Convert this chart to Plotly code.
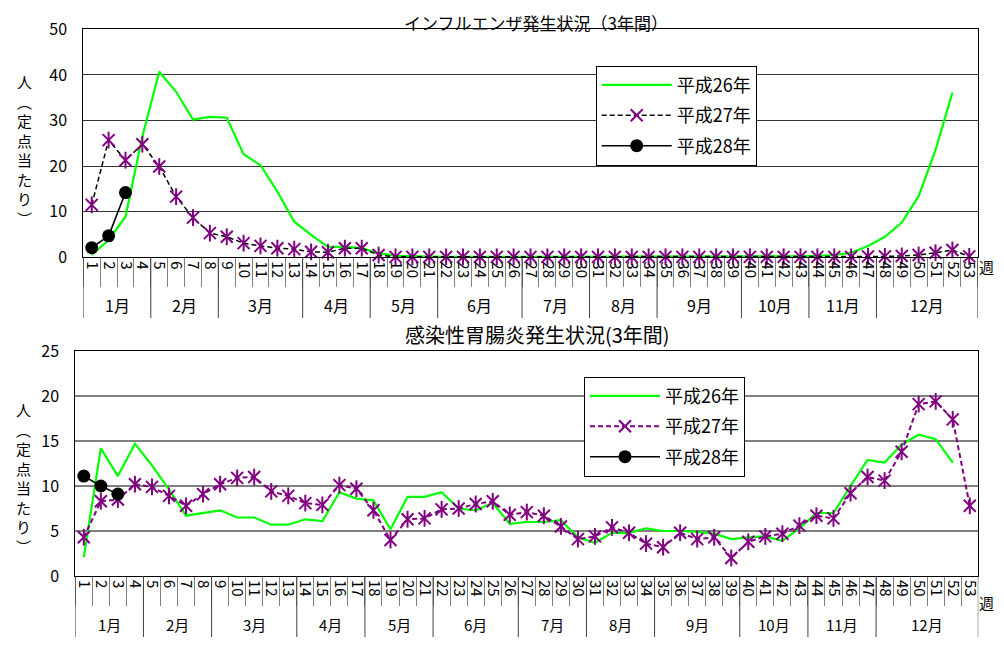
import plotly.graph_objects as go

# ---------------- data ----------------
month_names = ["1月", "2月", "3月", "4月", "5月", "6月", "7月", "8月", "9月", "10月", "11月", "12月"]
weeks_per_month = [4, 4, 5, 4, 4, 5, 4, 4, 5, 4, 4, 6]
week_labels = [str(i) for i in range(1, 54)]

series_names = ["平成26年", "平成27年", "平成28年"]

flu_h26 = [0.5, 3.8, 8.9, 26.5, 40.7, 36.3, 30.2, 30.8, 30.6, 22.6, 20.2, 14.4, 7.8, 4.9,
           2.3, 2.3, 2.0, 0.9, 0.3, 0.2, 0.2, 0.1, 0.1, 0.1, 0.1, 0.1, 0.1, 0.1, 0.1, 0.1,
           0.1, 0.1, 0.1, 0.1, 0.1, 0.1, 0.1, 0.1, 0.1, 0.1, 0.1, 0.1, 0.2, 0.3, 0.5, 1.0,
           2.5, 4.5, 7.6, 13.4, 23.5, 36.1]
flu_h27 = [11.5, 25.7, 21.3, 24.8, 19.9, 13.3, 8.7, 5.3, 4.5, 3.1, 2.5, 2.0, 1.8, 1.2,
           1.1, 2.0, 2.0, 0.5, 0.1, 0.1, 0.1, 0.1, 0.1, 0.1, 0.1, 0.1, 0.1, 0.1, 0.1, 0.1,
           0.1, 0.1, 0.1, 0.1, 0.1, 0.1, 0.1, 0.1, 0.1, 0.1, 0.1, 0.1, 0.1, 0.1, 0.1, 0.1,
           0.2, 0.2, 0.3, 0.5, 1.0, 1.6, 0.2]
flu_h28 = [2.1, 4.7, 14.2]

gastro_h26 = [2.1, 14.2, 11.1, 14.7, 12.3, 9.6, 6.7, 7.0, 7.3, 6.5, 6.5, 5.7, 5.7, 6.3,
              6.1, 9.3, 8.6, 8.4, 5.2, 8.8, 8.8, 9.3, 7.5, 7.3, 8.1, 5.8, 6.0, 6.0, 6.2,
              4.3, 3.7, 4.8, 4.8, 5.3, 5.0, 5.0, 4.9, 4.7, 4.1, 4.3, 4.4, 3.9, 5.3, 7.0,
              7.0, 10.0, 12.9, 12.6, 14.6, 15.7, 15.2, 12.6]
gastro_h27 = [4.3, 8.3, 8.5, 10.2, 9.9, 8.9, 7.8, 9.1, 10.2, 10.9, 11.0, 9.4, 8.9, 8.1,
              7.9, 10.1, 9.7, 7.3, 4.0, 6.3, 6.4, 7.4, 7.5, 8.0, 8.3, 6.8, 7.1, 6.7, 5.5,
              4.1, 4.4, 5.4, 4.8, 3.6, 3.2, 4.8, 4.1, 4.3, 2.0, 3.8, 4.4, 4.7, 5.6, 6.7,
              6.4, 9.2, 11.0, 10.6, 13.8, 19.1, 19.4, 17.4, 7.8]
gastro_h28 = [11.1, 10.0, 9.1]

titles = ["インフルエンザ発生状況（3年間）", "感染性胃腸炎発生状況(3年間)"]
y_title = "人<br>︵<br>定<br>点<br>当<br>た<br>り<br>︶"
week_unit = "週"

# ---------------- geometry helpers ----------------
FONT = "Noto Sans CJK JP"
GREEN = "#00ff00"
PURPLE = "#800080"
OFF = 8                      # page body margin
W, H = 1004 - 2 * OFF, 645 - 2 * OFF


def xp(p):
    return (p - OFF) / W


def yp(p):
    return 1 - (p - OFF) / H


# month boundaries / centres in category index units
bounds = [-0.5]
for n in weeks_per_month:
    bounds.append(bounds[-1] + n)
centres = [(a + b) / 2 for a, b in zip(bounds[:-1], bounds[1:])]

fig = go.Figure()


def add_set(h26, h27, h28, xa, ya, legend, h27_line_color, h27_width):
    fig.add_trace(go.Scatter(
        x=week_labels[:len(h26)], y=h26, name=series_names[0], mode="lines",
        line=dict(color=GREEN, width=2.2), xaxis=xa, yaxis=ya,
        legend=legend, legendgroup=legend + "a", cliponaxis=False))
    fig.add_trace(go.Scatter(
        x=week_labels[:len(h27)], y=h27, name=series_names[1], mode="lines+markers",
        line=dict(color=h27_line_color, width=h27_width, dash="5px,3px"),
        marker=dict(symbol="x-thin-open", size=12, color=PURPLE,
                    line=dict(color=PURPLE, width=2)),
        xaxis=xa, yaxis=ya, legend=legend, legendgroup=legend + "b", cliponaxis=False))
    fig.add_trace(go.Scatter(
        x=week_labels[:len(h27)], y=h27, name=series_names[1], mode="markers",
        marker=dict(symbol="line-ns-open", size=12, color=PURPLE,
                    line=dict(color=PURPLE, width=2)),
        xaxis=xa, yaxis=ya, legend=legend, legendgroup=legend + "b",
        showlegend=False, cliponaxis=False))
    fig.add_trace(go.Scatter(
        x=week_labels[:len(h28)], y=h28, name=series_names[2], mode="lines+markers",
        line=dict(color="black", width=1.6),
        marker=dict(symbol="circle", size=13, color="black"),
        xaxis=xa, yaxis=ya, legend=legend, legendgroup=legend + "c", cliponaxis=False))


add_set(flu_h26, flu_h27, flu_h28, "x", "y", "legend", "black", 1.5)
add_set(gastro_h26, gastro_h27, gastro_h28, "x2", "y2", "legend2", PURPLE, 2)

xcommon = dict(type="category", categoryorder="array", categoryarray=week_labels,
               range=[-0.5, len(week_labels) - 0.5],
               tickangle=90, dtick=1, showgrid=False,
               showline=True, linecolor="black", linewidth=1, mirror=True,
               ticks="outside", tickson="boundaries", ticklen=29, tickcolor="#808080",
               ticklabelstandoff=0,
               tickfont=dict(family=FONT, size=15, color="black"),
               automargin=False, fixedrange=True)
ycommon = dict(showgrid=True, zeroline=False, showline=True, linecolor="black",
               linewidth=1, mirror=True, ticks="", ticklabelstandoff=12,
               tickfont=dict(family=FONT, size=16, color="black"),
               automargin=False, fixedrange=True)

# chart geometry in page pixels: left, right, top, bottom, divider bottom, month label y/size
charts = [
    dict(l=83.3, r=977.7, t=29.3, b=257.3, dbot=318, my=305, ms=16, manchor="middle"),
    dict(l=75.3, r=978.3, t=351.0, b=576.0, dbot=645, my=637, ms=15, manchor="bottom"),
]

shapes = []
annotations = []
for k, c in enumerate(charts):
    xref = "x" if k == 0 else "x2"
    for bx in bounds:
        shapes.append(dict(type="line", xref=xref, yref="paper", x0=bx, x1=bx,
                           y0=yp(c["b"]), y1=yp(c["dbot"]),
                           line=dict(color="#404040", width=1)))
    for cx, name in zip(centres, month_names):
        annotations.append(dict(text=name, x=cx, y=yp(c["my"]), xref=xref, yref="paper",
                                xanchor="center", yanchor=c["manchor"], showarrow=False,
                                font=dict(family=FONT, size=c["ms"])))

annotations += [
    dict(text=titles[0], x=xp(535.7), y=yp(8), xref="paper", yref="paper",
         xanchor="center", yanchor="top", showarrow=False, font=dict(family=FONT, size=17)),
    dict(text=titles[1], x=xp(537.5), y=yp(334), xref="paper", yref="paper",
         xanchor="center", yanchor="middle", showarrow=False, font=dict(family=FONT, size=20)),
    dict(text=y_title, x=xp(24), y=yp(150), xref="paper", yref="paper",
         xanchor="center", yanchor="middle", showarrow=False, font=dict(family=FONT, size=15)),
    dict(text=y_title, x=xp(23), y=yp(478), xref="paper", yref="paper",
         xanchor="center", yanchor="middle", showarrow=False, font=dict(family=FONT, size=15)),
    dict(text=week_unit, x=xp(996), y=yp(266), xref="paper", yref="paper",
         xanchor="right", yanchor="middle", showarrow=False, font=dict(family=FONT, size=15)),
    dict(text=week_unit, x=xp(996), y=yp(602), xref="paper", yref="paper",
         xanchor="right", yanchor="middle", showarrow=False, font=dict(family=FONT, size=15)),
]

legend_common = dict(xanchor="left", yanchor="top", bgcolor="white", bordercolor="black",
                     borderwidth=1, font=dict(family=FONT, size=18),
                     tracegroupgap=4, itemwidth=70)

fig.update_layout(
    width=W, height=H, template="none",
    margin=dict(l=0, r=0, t=0, b=0),
    paper_bgcolor="white", plot_bgcolor="white",
    font=dict(family=FONT, color="black"),
    xaxis=dict(domain=[xp(charts[0]["l"]), xp(charts[0]["r"])], anchor="y", **xcommon),
    yaxis=dict(domain=[yp(charts[0]["b"]), yp(charts[0]["t"])], anchor="x", range=[0, 50],
               dtick=10, gridcolor="#333333", gridwidth=1, **ycommon),
    xaxis2=dict(domain=[xp(charts[1]["l"]), xp(charts[1]["r"])], anchor="y2", **xcommon),
    yaxis2=dict(domain=[yp(charts[1]["b"]), yp(charts[1]["t"])], anchor="x2", range=[0, 25],
                dtick=5, gridcolor="#808080", gridwidth=1.5, **ycommon),
    legend=dict(x=xp(595.7), y=yp(65.7), **legend_common),
    legend2=dict(x=xp(584), y=yp(376.7), **legend_common),
    shapes=shapes,
    annotations=annotations,
)

fig.write_html("out.html")
